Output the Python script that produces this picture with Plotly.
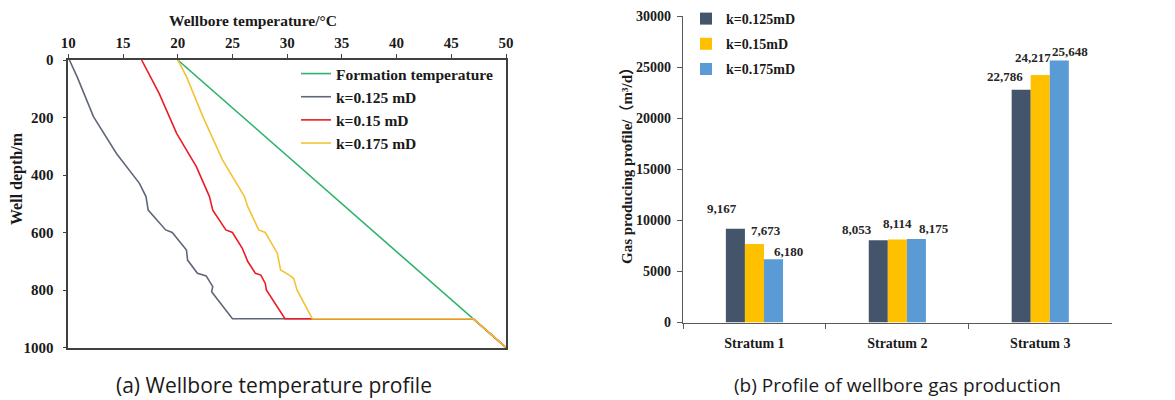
import plotly.graph_objects as go

# ---------------- data: (a) wellbore temperature profile ----------------
formation_T = [20.0, 50.0]
formation_d = [0, 1000]

k0125_T = [10.1, 10.8, 12.3, 14.4, 16.5, 17.1, 17.3, 18.9, 19.5, 20.8, 20.9, 21.8, 22.6, 23.2, 23.1, 25.0, 47.0, 50.0]
k0125_d = [0, 58, 197, 325, 429, 475, 522, 591, 600, 661, 696, 742, 751, 788, 806, 900, 900, 1000]

k015_T = [16.7, 18.3, 19.9, 21.7, 22.9, 23.2, 24.4, 25.0, 25.9, 26.4, 27.1, 27.6, 28.0, 28.1, 29.8, 47.0, 50.0]
k015_d = [0, 116, 255, 371, 475, 522, 591, 600, 655, 701, 742, 748, 777, 800, 900, 900, 1000]

k0175_T = [20.0, 20.8, 22.3, 24.1, 26.1, 26.4, 27.4, 28.0, 29.1, 29.4, 30.2, 30.6, 30.9, 32.3, 47.0, 50.0]
k0175_d = [0, 58, 197, 348, 475, 510, 591, 600, 672, 730, 748, 760, 800, 900, 900, 1000]

# ---------------- data: (b) gas production profile ----------------
strata = ["Stratum 1", "Stratum 2", "Stratum 3"]
gas_k0125 = [9167, 8053, 22786]
gas_k015 = [7673, 8114, 24217]
gas_k0175 = [6180, 8175, 25648]

# ---------------- styles / page geometry ----------------
SERIF = "Liberation Serif"
SERIF_CJK = "Liberation Serif, Noto Sans CJK SC"
SANS = "Open Sans"
AX = "#404040"
OX, OY = 8, 8                      # default page body margin
FW, FH = 1175 - OX, 400 - OY       # figure size that fits the window


def px(x):
    return (x - OX) / FW


def py(y):
    return 1 - (y - OY) / FH


fig = go.Figure()

line_specs = [
    ("Formation temperature", formation_T, formation_d, "#2fb36c"),
    ("k=0.125 mD", k0125_T, k0125_d, "#5f6779"),
    ("k=0.15 mD", k015_T, k015_d, "#ec1c24"),
    ("k=0.175 mD", k0175_T, k0175_d, "#f4c235"),
]
for name, t, d, c in line_specs:
    fig.add_trace(go.Scatter(x=t, y=d, mode="lines", name=name,
                             line=dict(color=c, width=1.6),
                             xaxis="x", yaxis="y", legend="legend"))

bar_specs = [
    ("k=0.125mD", gas_k0125, "#44546a"),
    ("k=0.15mD", gas_k015, "#ffc000"),
    ("k=0.175mD", gas_k0175, "#5b9bd5"),
]
for i, (name, vals, c) in enumerate(bar_specs):
    fig.add_trace(go.Bar(x=strata, y=vals, name=name, marker=dict(color=c, line=dict(width=0)),
                         xaxis="x2", yaxis="y2", legend="legend2", legendgroup=f"g{i}"))

# data labels (offset like the reference)
label_shifts = [
    [(-32, 20), (-40, 11), (-35, 13)],
    [(12, 14), (0, 16), (-7, 18)],
    [(34, 8), (37, 10), (30, 9)],
]
annotations = []
for si, (name, vals, c) in enumerate(bar_specs):
    for ci, v in enumerate(vals):
        dx, dy = label_shifts[si][ci]
        annotations.append(dict(x=strata[ci], y=v, xref="x2", yref="y2", text=f"{v:,}",
                                showarrow=False, xshift=dx, yshift=dy,
                                font=dict(family=SERIF, size=13, color="#262626", weight="bold")))

# axis titles and captions
annotations += [
    dict(x=px(253), y=py(20), xref="paper", yref="paper", text="Wellbore temperature/°C",
         xanchor="center", yanchor="middle", showarrow=False,
         font=dict(family=SERIF, size=15.5, color="#1a1a1a", weight="bold")),
    dict(x=px(17), y=py(179), xref="paper", yref="paper", text="Well depth/m", textangle=-90,
         xanchor="center", yanchor="middle", showarrow=False,
         font=dict(family=SERIF, size=16, color="#1a1a1a", weight="bold")),
    dict(x=px(627), y=py(162), xref="paper", yref="paper", text="Gas producing profile/（m³/d）",
         textangle=-90, xanchor="center", yanchor="middle", showarrow=False,
         font=dict(family=SERIF_CJK, size=15, color="#1a1a1a", weight="bold")),
    dict(x=px(274), y=py(385), xref="paper", yref="paper", text="(a) Wellbore temperature profile",
         xanchor="center", yanchor="middle", showarrow=False,
         font=dict(family=SANS, size=21, color="#1a1a1a")),
    dict(x=px(898), y=py(385), xref="paper", yref="paper", text="(b) Profile of wellbore gas production",
         xanchor="center", yanchor="middle", showarrow=False,
         font=dict(family=SANS, size=19, color="#1a1a1a")),
]

tickfont_l = dict(family=SERIF, size=15, color="#1a1a1a", weight="bold")
tickfont_r = dict(family=SERIF, size=14, color="#1a1a1a", weight="bold")

fig.update_layout(
    width=FW, height=FH,
    margin=dict(l=0, r=0, t=0, b=0, autoexpand=False),
    paper_bgcolor="white", plot_bgcolor="white",
    bargap=0.6, bargroupgap=0,
    barmode="group",
    xaxis=dict(domain=[px(68.3), px(506)], anchor="y", side="top", range=[10, 50], dtick=5,
               showgrid=False, zeroline=False, showline=True, linecolor=AX, linewidth=1.5,
               mirror=True, ticks="outside", ticklen=4, tickcolor=AX, tickfont=tickfont_l,
               automargin=False),
    yaxis=dict(domain=[py(347.5), py(60)], anchor="x", range=[1000, 0], dtick=200,
               showgrid=False, zeroline=False, showline=True, linecolor=AX, linewidth=1.5,
               mirror=True, ticks="outside", ticklen=4, tickcolor=AX, tickfont=tickfont_l,
               ticklabelstandoff=6, automargin=False),
    xaxis2=dict(domain=[px(683), px(1111.7)], anchor="y2", type="category",
                showgrid=False, zeroline=False, showline=True, linecolor="#595959", linewidth=1.2,
                ticks="outside", tickson="boundaries", ticklen=5, tickcolor="#595959",
                tickfont=tickfont_r, ticklabelstandoff=8, automargin=False),
    yaxis2=dict(domain=[py(322.5), py(16)], anchor="x2", range=[0, 30000], dtick=5000,
                showgrid=False, zeroline=False, showline=True, linecolor="#595959", linewidth=1.2,
                ticks="outside", ticklen=5, tickcolor="#595959", tickformat="d",
                tickfont=tickfont_r, ticklabelstandoff=3, ticklabeloverflow="allow",
                automargin=False),
    legend=dict(x=px(296), y=py(57), xanchor="left", yanchor="top",
                bgcolor="rgba(0,0,0,0)", borderwidth=0, tracegroupgap=0,
                font=dict(family=SERIF, size=15.5, color="#1a1a1a", weight="bold")),
    legend2=dict(x=px(686), y=py(3), xanchor="left", yanchor="top",
                 bgcolor="rgba(0,0,0,0)", borderwidth=0, tracegroupgap=4, itemwidth=30,
                 font=dict(family=SERIF, size=14, color="#1a1a1a", weight="bold")),
    showlegend=True,
    annotations=annotations,
)

fig.write_html("out.html")
